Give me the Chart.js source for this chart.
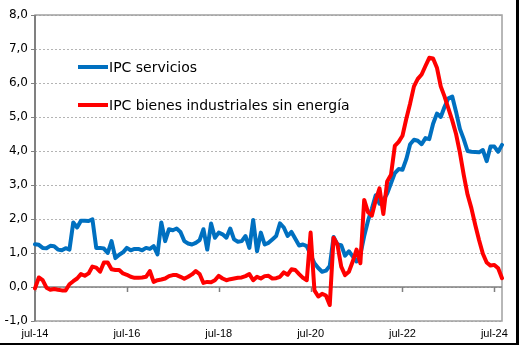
<!DOCTYPE html>
<html lang="es">
<head>
<meta charset="utf-8">
<title>IPC servicios e IPC bienes industriales sin energía</title>
<script src="https://cdn.jsdelivr.net/npm/chart.js@4.4.1/dist/chart.umd.min.js"></script>
<style>
    html, body { margin: 0; padding: 0; background: #fff; }
    #wrap { position: relative; width: 519px; height: 345px; overflow: hidden; }
    #chart { position: absolute; left: 0; top: 0; }
    .key {
        position: absolute; left: 78px; height: 20px;
        font: 14px "DejaVu Sans", Verdana, sans-serif; color: #000;
        display: flex; align-items: center; white-space: nowrap;
    }
    .key i { display: inline-block; width: 30px; height: 4px; margin-right: 1px; }
    #frame {
        position: absolute; left: 0; top: 0; width: 519px; height: 345px;
        box-sizing: border-box; border-right: 3px solid #000; border-bottom: 2px solid #000;
        pointer-events: none;
    }
</style>
</head>
<body>
<div id="wrap">
    <canvas id="chart" width="519" height="345"></canvas>
    <div class="key" style="top:57px"><i style="background:#0070c0"></i>IPC servicios</div>
    <div class="key" style="top:95px"><i style="background:#ff0000"></i>IPC bienes industriales sin energía</div>
    <div id="frame"></div>
</div>
<script>
/* ==========================================================================
   Data (tasa interanual, %), jul-14 .. sep-24
   ========================================================================== */

const monthNames = ['ene', 'feb', 'mar', 'abr', 'may', 'jun', 'jul', 'ago', 'sep', 'oct', 'nov', 'dic'];
const firstYear = 14, firstMonth = 6;   // jul-14
const lastYear = 24, lastMonth = 8;     // sep-24

const labelEvery = 24;                  // jul-14, jul-16, ... jul-24

const servicios = [
    1.26, 1.24, 1.15, 1.14, 1.21, 1.20, 1.10, 1.08, 1.14, 1.10,
    1.90, 1.75, 1.95, 1.95, 1.94, 1.99, 1.15, 1.15, 1.13, 1.00,
    1.35, 0.85, 0.95, 1.02, 1.15, 1.08, 1.12, 1.12, 1.08, 1.15,
    1.12, 1.20, 0.96, 1.90, 1.35, 1.70, 1.67, 1.72, 1.62, 1.35,
    1.28, 1.25, 1.30, 1.38, 1.70, 1.10, 1.87, 1.45, 1.60, 1.55,
    1.45, 1.72, 1.40, 1.33, 1.35, 1.50, 1.15, 1.97, 1.05, 1.60,
    1.25, 1.30, 1.40, 1.50, 1.87, 1.75, 1.50, 1.62, 1.42, 1.22,
    1.25, 1.20, 0.95, 0.70, 0.56, 0.45, 0.48, 0.62, 1.47, 1.25,
    1.23, 0.92, 1.05, 0.90, 0.75, 0.95, 1.50, 1.95, 2.30, 2.70,
    2.45, 2.55, 2.75, 3.05, 3.35, 3.47, 3.45, 3.76, 4.20, 4.33,
    4.30, 4.20, 4.38, 4.35, 4.80, 5.10, 5.00, 5.30, 5.55, 5.60,
    5.15, 4.65, 4.35, 4.00, 3.98, 3.97, 3.96, 4.03, 3.70, 4.13,
    4.13, 3.98, 4.18
];

const bienesIndustriales = [
    -0.04, 0.28, 0.20, -0.02, -0.08, -0.06, -0.08, -0.10, -0.10, 0.08,
    0.17, 0.25, 0.38, 0.33, 0.40, 0.60, 0.57, 0.45, 0.72, 0.72,
    0.52, 0.50, 0.50, 0.40, 0.36, 0.30, 0.27, 0.27, 0.28, 0.30,
    0.47, 0.15, 0.20, 0.22, 0.25, 0.32, 0.35, 0.35, 0.30, 0.24,
    0.30, 0.37, 0.47, 0.38, 0.12, 0.15, 0.14, 0.20, 0.33, 0.25,
    0.20, 0.23, 0.25, 0.27, 0.28, 0.32, 0.38, 0.20, 0.30, 0.25,
    0.32, 0.33, 0.25, 0.26, 0.30, 0.43, 0.36, 0.52, 0.50, 0.38,
    0.27, 0.20, 1.60, -0.10, -0.28, -0.20, -0.25, -0.53, 1.45, 1.25,
    0.60, 0.35, 0.45, 0.75, 1.10, 0.70, 2.56, 2.20, 2.10, 2.55,
    2.90, 2.15, 3.10, 3.30, 4.15, 4.27, 4.45, 4.95, 5.40, 5.90,
    6.12, 6.25, 6.50, 6.74, 6.72, 6.45, 5.90, 5.60, 5.25, 4.90,
    4.50, 3.95, 3.30, 2.72, 2.32, 1.83, 1.38, 0.98, 0.72, 0.63,
    0.65, 0.55, 0.26
];

const labels = [];
for (let y = firstYear; y <= lastYear; y++) {
    for (let m = 0; m < 12; m++) {
        if (y === firstYear && m < firstMonth) continue;
        if (y === lastYear && m > lastMonth) continue;
        labels.push(monthNames[m] + '-' + y);
    }
}

/* ==========================================================================
   Plot frame, zero line and its tick marks
   ========================================================================== */

const framePlugin = {
    id: 'frame',
    beforeDatasetsDraw(chart) {
        const { ctx, chartArea: a, scales } = chart;
        const y0 = scales.y.getPixelForValue(0);
        ctx.save();

        // outer border of the plot area
        ctx.strokeStyle = '#a0a0a0';
        ctx.lineWidth = 1.5;
        ctx.strokeRect(a.left, a.top, a.right - a.left, a.bottom - a.top);

        // vertical axis
        ctx.strokeStyle = '#808080';
        ctx.lineWidth = 2;
        ctx.beginPath();
        ctx.moveTo(a.left, a.top);
        ctx.lineTo(a.left, a.bottom);
        ctx.stroke();

        // horizontal axis crosses at 0
        ctx.lineWidth = 1.5;
        ctx.beginPath();
        ctx.moveTo(a.left, y0);
        ctx.lineTo(a.right, y0);
        labels.forEach((l, i) => {
            if (i % labelEvery !== 0) return;
            const px = Math.round(scales.x.getPixelForValue(i)) + 0.5;
            ctx.moveTo(px, y0);
            ctx.lineTo(px, y0 + 5);
        });
        ctx.stroke();
        ctx.restore();
    }
};

/* ==========================================================================
   Chart
   ========================================================================== */

const ctx = document.getElementById('chart').getContext('2d');

new Chart(ctx, {
    type: 'line',
    data: {
        labels: labels,
        datasets: [
            {
                label: 'IPC bienes industriales sin energía',
                data: bienesIndustriales,
                borderColor: '#ff0000',
                borderWidth: 4
            },
            {
                label: 'IPC servicios',
                data: servicios,
                borderColor: '#0070c0',
                borderWidth: 4
            }
        ]
    },
    options: {
        responsive: false,
        animation: false,
        devicePixelRatio: 1,
        layout: { padding: { top: 15, right: 17, left: 0, bottom: 0 } },
        elements: {
            point: { radius: 0 },
            line: { tension: 0, borderJoinStyle: 'round', borderCapStyle: 'round' }
        },
        plugins: {
            legend: { display: false },
            tooltip: { enabled: false }
        },
        scales: {
            x: {
                offset: false,
                grid: { display: false, drawTicks: false, tickLength: 0 },
                border: { display: false },
                ticks: {
                    autoSkip: false,
                    maxRotation: 0,
                    padding: 6,
                    color: '#000',
                    font: { family: '"Liberation Sans", Arial, sans-serif', size: 11 },
                    callback: function (value, index) {
                        return index % labelEvery === 0 ? this.getLabelForValue(value) : '';
                    }
                },
                afterFit: scale => { scale.height = 24; }
            },
            y: {
                min: -1,
                max: 8,
                grid: {
                    color: '#b4b4b4',
                    lineWidth: 1,
                    tickLength: 4,
                    tickColor: '#808080'
                },
                border: { display: false, dash: [2, 2] },
                ticks: {
                    stepSize: 1,
                    padding: 3,
                    color: '#000',
                    font: { family: '"DejaVu Sans", Verdana, sans-serif', size: 12 },
                    callback: v => v.toFixed(1).replace('.', ',')
                },
                afterFit: scale => { scale.width = 35; }
            }
        }
    },
    plugins: [framePlugin]
});
</script>
</body>
</html>
